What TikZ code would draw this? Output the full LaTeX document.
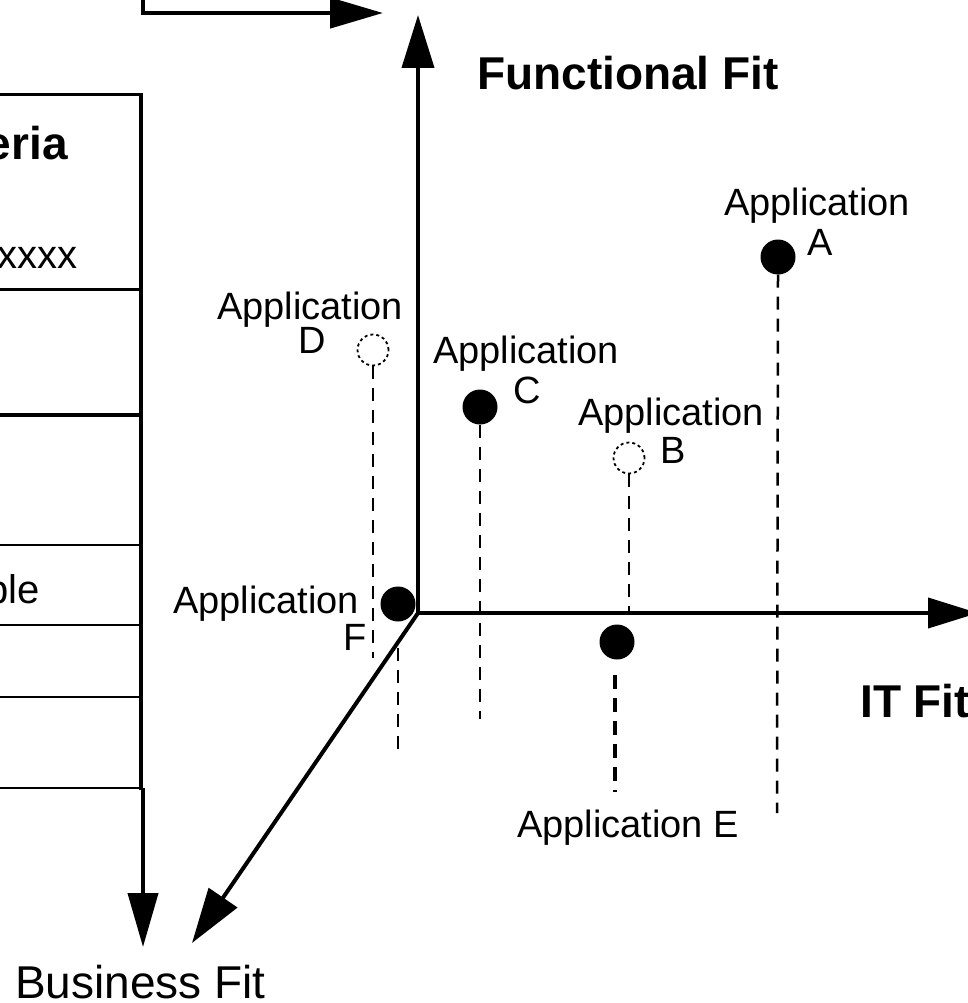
\documentclass[tikz,border=0pt]{standalone}
\usepackage{fontspec}
\setmainfont{Liberation Sans}
\usetikzlibrary{arrows.meta}
\begin{document}
\begin{tikzpicture}[x=1pt,y=-1pt,
  bigtip/.style={-{Triangle[length=53pt,width=32pt]}},
  axis/.style={line width=4pt, line join=miter},
  thinrule/.style={line width=2pt},
  midrule/.style={line width=3pt},
  heavyrule/.style={line width=4pt},
  guide/.style={line width=2.5pt, dash pattern=on 13pt off 9pt},
  guideheavy/.style={line width=4.5pt, dash pattern=on 14pt off 9pt},
  appdot/.style={circle, fill=black, inner sep=0pt, minimum size=35pt},
  appghost/.style={circle, draw=black, line width=1.8pt, dash pattern=on 3pt off 3pt, inner sep=0pt, minimum size=31pt},
  lbl/.style={font=\fontsize{38}{38}\selectfont, inner sep=0pt},
  celltext/.style={font=\fontsize{40}{40}\selectfont, inner sep=0pt},
  title/.style={font=\fontsize{46}{46}\selectfont\bfseries, inner sep=0pt},
]
\useasboundingbox (0,0) rectangle (967,1003);

% ---- criteria table (left) ----
\foreach \yy/\st in {95/midrule, 289/midrule, 415/heavyrule, 545/thinrule, 625/thinrule, 697/thinrule, 788/thinrule}
  \draw[\st] (-5,\yy) -- (141,\yy);
\draw[heavyrule] (141,93) -- (141,790);
\node[title, anchor=base east] (crit) at (68,160) {eria};
\node[celltext, anchor=base east] (xrow) at (78,268) {xxxx};
\node[celltext, anchor=base east] (brow) at (40,603) {ble};

% ---- arrows leaving the table ----
\coordinate (feedTop) at (143,-5);
\coordinate (feedCorner) at (143,13);
\coordinate (feedTip) at (383,13);
\draw[line width=4.5pt, -{Triangle[length=53pt,width=30pt]}] (feedTop) -- (feedCorner) -- (feedTip);
\coordinate (tabBase) at (143,788);
\coordinate (tabTip) at (143,947);
\draw[line width=4pt, -{Triangle[length=54pt,width=30pt]}] (tabBase) -- (tabTip);

% ---- the three axes ----
\coordinate (O) at (418,613);
\coordinate (yTip) at (418,15);
\coordinate (xTip) at (978,613);
\coordinate (zTip) at (192,943);
\draw[axis, {Triangle[length=53pt,width=32pt]}-{Triangle[length=50pt,width=30pt]}] (yTip) -- (O) -- (xTip);
\draw[line width=4pt, -{Triangle[length=55pt,width=34pt]}] (O) -- (zTip);

\node[title, anchor=base west] (ffit) at (477,90) {Functional Fit};
\node[title, anchor=base west] (itfit) at (860,717) {IT Fit};
\node[title, font=\fontsize{46}{46}\selectfont, anchor=base west] (bfit) at (15,998) {Business Fit};

% ---- applications ----
\node[appdot] (dA) at (778,257) {};
\node[appghost] (dB) at (629,458) {};
\node[appdot] (dC) at (480,407) {};
\node[appghost] (dD) at (373,350) {};
\node[appdot] (dE) at (617,642) {};
\node[appdot] (dF) at (398,604) {};

\node[lbl, anchor=base west] (lA) at (724,215) {Application};
\node[lbl, anchor=base west] (kA) at (807,255) {A};
\node[lbl, anchor=base west] (lB) at (578,425) {Application};
\node[lbl, anchor=base west] (kB) at (660,463) {B};
\node[lbl, anchor=base west] (lC) at (433,363) {Application};
\node[lbl, anchor=base west] (kC) at (513,403) {C};
\node[lbl, anchor=base west] (lD) at (217,319) {Application};
\node[lbl, anchor=base west] (kD) at (298,353) {D};
\node[lbl, anchor=base west] (lF) at (173,613) {Application};
\node[lbl, anchor=base west] (kF) at (343,650) {F};
\node[lbl, anchor=base west] (lE) at (517,837) {Application E};

% ---- projection guides ----
\coordinate (aEnd) at (777,813);
\coordinate (cEnd) at (480,719);
\coordinate (dEnd) at (373,658);
\coordinate (fTop) at (398,648);
\coordinate (fEnd) at (398,754);
\coordinate (eTop) at (615,675);
\coordinate (eEnd) at (615,792);
\draw[guide] (dA.south) -- (aEnd);
\draw[guide] (dB.south) -- (dB.south |- O);
\draw[guide] (dC.south) -- (cEnd);
\draw[guide] (dD.south) -- (dEnd);
\draw[guide] (fTop) -- (fEnd);
\draw[guideheavy] (eTop) -- (eEnd);
\end{tikzpicture}
\end{document}
